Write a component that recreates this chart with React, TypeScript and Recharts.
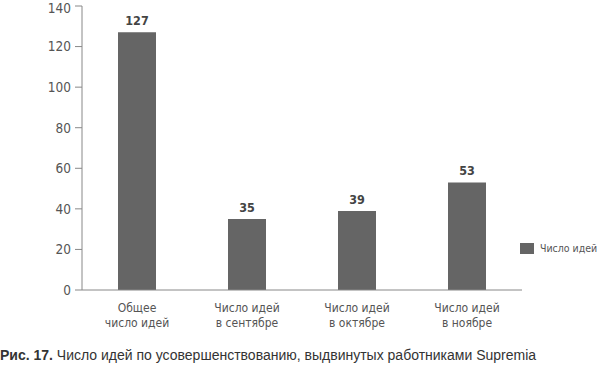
import React from 'react';
import { BarChart, Bar, XAxis, YAxis, LabelList } from 'recharts';

const categories = ['Общее\nчисло идей', 'Число идей\nв сентябре', 'Число идей\nв октябре', 'Число идей\nв ноябре'];
const values = [127, 35, 39, 53];
const yTicks = [0, 20, 40, 60, 80, 100, 120, 140];
const seriesName = 'Число идей';
const captionBold = 'Рис. 17.';
const captionText = ' Число идей по усовершенствованию, выдвинутых работниками Supremia';

const data = categories.map((c, i) => ({ name: c, value: values[i] }));
const boundaryTicks = categories.map((_, i) => i).concat([categories.length]);

const FONT = '"Liberation Sans Narrow", "DejaVu Sans Condensed", "Liberation Sans", sans-serif';
const BAR_COLOR = '#656565';

const CatTick = (props: any) => {
  const { x, y, payload } = props;
  const lines = String(payload.value).split('\n');
  return (
    <g transform={`translate(${x},${y})`}>
      {lines.map((l, i) => (
        <text key={i} x={0} y={14 + i * 15} textAnchor="middle" fill="#555" fontSize={12} fontFamily={FONT}>
          {l}
        </text>
      ))}
    </g>
  );
};

export default function App() {
  return (
    <div style={{ position: 'absolute', left: 0, top: 0, width: 600, height: 367, background: '#fff', overflow: 'hidden' }}>
      <BarChart width={600} height={340} data={data} margin={{ top: 6, right: 78, left: 0, bottom: 0 }}>
        <XAxis
          xAxisId="grid"
          type="number"
          dataKey="idx"
          domain={[0, categories.length]}
          ticks={boundaryTicks}
          height={0}
          axisLine={false}
          tickLine={{ stroke: '#888' }}
          tickSize={6}
          tick={() => <g />}
          allowDataOverflow
        />
        <XAxis
          xAxisId="cat"
          dataKey="name"
          height={50}
          axisLine={{ stroke: '#888' }}
          tickLine={false}
          tick={<CatTick />}
          interval={0}
        />
        <YAxis
          domain={[0, 140]}
          ticks={yTicks}
          width={82}
          axisLine={{ stroke: '#888' }}
          tickLine={{ stroke: '#888' }}
          tickSize={7}
          tickMargin={4}
          tick={{ fill: '#555', fontSize: 13.5, fontFamily: FONT }}
        />
        <Bar xAxisId="cat" dataKey="value" name={seriesName} fill={BAR_COLOR} barSize={38} isAnimationActive={false}>
          <LabelList dataKey="value" position="top" offset={7} fill="#444" fontSize={12.5} fontWeight="bold" fontFamily={FONT} />
        </Bar>
      </BarChart>
      <div style={{ position: 'absolute', left: 520, top: 242, display: 'flex', alignItems: 'center', fontFamily: FONT, fontSize: 10.5, color: '#555', whiteSpace: 'nowrap' }}>
        <span style={{ display: 'inline-block', width: 14, height: 11, background: BAR_COLOR, marginRight: 6 }} />
        <span>{seriesName}</span>
      </div>
      <div style={{ position: 'absolute', left: 0, top: 347, fontFamily: '"Liberation Sans", Arial, sans-serif', fontSize: 14, color: '#333', whiteSpace: 'nowrap' }}>
        <b>{captionBold}</b>{captionText}
      </div>
    </div>
  );
}
